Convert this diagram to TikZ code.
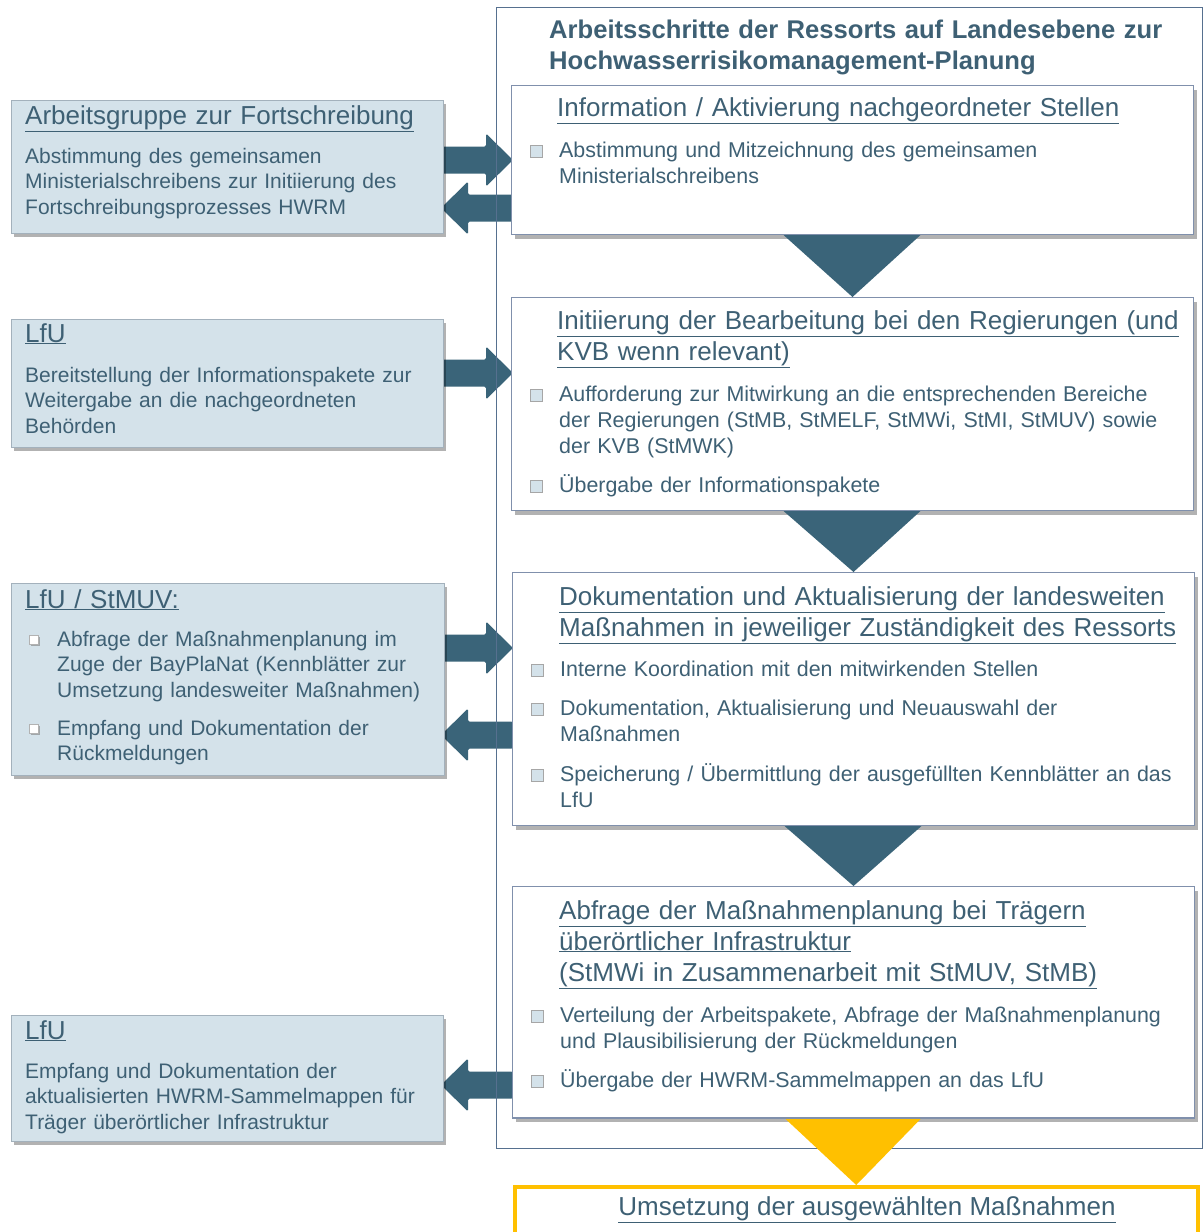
\documentclass[tikz,border=0pt]{standalone}
\usepackage{fontspec}
\setmainfont{Liberation Sans}
\usetikzlibrary{shadows,calc}
\newcommand\ul[1]{\underline{#1}}
\definecolor{dark}{HTML}{3A6479}
\definecolor{tcol}{HTML}{3E6074}
\definecolor{lfill}{HTML}{D4E2EA}
\definecolor{lborder}{HTML}{A3B1BC}
\definecolor{rborder}{HTML}{8090AC}
\definecolor{framec}{HTML}{56708F}
\definecolor{yel}{HTML}{FFC000}
\newcommand\RArrow[1]{\begin{scope}[shift={(0,#1)}]
  \fill[dark,rounded corners=1.5pt] (441,-13.5) -- (486,-13.5) -- (486,-26.5) -- (513,0) -- (486,26.5) -- (486,13.5) -- (441,13.5) -- cycle;
\end{scope}}
\newcommand\LArrow[1]{\begin{scope}[shift={(0,#1)}]
  \fill[dark,rounded corners=1.5pt] (513,-13.5) -- (468,-13.5) -- (468,-26.5) -- (441,0) -- (468,26.5) -- (468,13.5) -- (513,13.5) -- cycle;
\end{scope}}
\tikzset{
  lbox/.style={draw=lborder, line width=0.8pt, fill=lfill, inner sep=0pt, anchor=north west,
    drop shadow={shadow xshift=3pt, shadow yshift=-4pt, opacity=0.3, fill=black}},
  rbox/.style={draw=rborder, line width=1pt, fill=white, inner sep=0pt, anchor=north west,
    drop shadow={shadow xshift=3pt, shadow yshift=-4pt, opacity=0.3, fill=black}},
  head/.style={anchor=base west, inner sep=0pt, text=tcol, align=left, text width=680pt,
    font=\fontsize{26}{31}\selectfont},
  body/.style={anchor=base west, inner sep=0pt, text=tcol, align=left, text width=660pt,
    font=\fontsize{21.4}{26}\selectfont},
  lbody/.style={anchor=base west, inner sep=0pt, text=tcol, align=left, text width=660pt,
    font=\fontsize{21}{25.6}\selectfont},
  chk/.style={draw=gray!70, fill=lfill, line width=0.8pt, minimum size=12pt, inner sep=0pt},
  chkl/.style={draw=gray!60, fill=white, line width=0.6pt, minimum size=9pt, inner sep=0pt,
    drop shadow={shadow xshift=1.2pt, shadow yshift=-1.2pt, opacity=0.6, fill=gray}}
}
\begin{document}
\begin{tikzpicture}[x=1pt,y=-1pt]
\useasboundingbox[fill=white] (0,0) rectangle (1203,1232);

% block arrows
\RArrow{160}
\LArrow{208}
\RArrow{373}
\RArrow{648}
\LArrow{735}
\LArrow{1085}

% outer frame
\draw[framec, line width=0.9pt] (496,7) rectangle (1202,1148);

% title
\node[anchor=base west, inner sep=0pt, text=tcol, align=left, text width=680pt,
  font=\fontsize{25.6}{31}\selectfont\bfseries] (title) at (549,38)
  {Arbeitsschritte der Ressorts auf Landesebene zur\\Hochwasserrisikomanagement-Planung};

% right boxes
\node[rbox, minimum width=682pt, minimum height=149pt] (r1) at (511,85) {};
\node[rbox, minimum width=682pt, minimum height=213pt] (r2) at (511,297) {};
\node[rbox, minimum width=682pt, minimum height=253pt] (r3) at (512,572) {};
\node[rbox, minimum width=682pt, minimum height=231pt] (r4) at (512,886) {};

% triangles
\fill[dark] ([xshift=-69pt]r1.south) -- ([xshift=68pt]r1.south) -- (r2.north) -- cycle;
\fill[dark] ([xshift=-69pt]r2.south) -- ([xshift=68pt]r2.south) -- (r3.north) -- cycle;
\fill[dark] ([xshift=-69pt]r3.south) -- ([xshift=68pt]r3.south) -- (r4.north) -- cycle;

% yellow final box and triangle
\node[draw=yel, line width=3.5pt, fill=white, inner sep=0pt, anchor=north west,
  minimum width=683pt, minimum height=80pt] (fin) at (513,1185) {};
\fill[yel] ([xshift=-69pt]r4.south) -- ([xshift=68pt]r4.south) -- (fin.north) -- cycle;
\draw[rborder, line width=1pt] (r4.south west) -- (r4.south east);

% left boxes
\node[lbox, minimum width=432pt, minimum height=133pt] (l1) at (11,100) {};
\node[lbox, minimum width=432pt, minimum height=128pt] (l2) at (11,319) {};
\node[lbox, minimum width=433pt, minimum height=192pt] (l3) at (11,583) {};
\node[lbox, minimum width=432pt, minimum height=126pt] (l4) at (11,1015) {};

% ---- right box texts
\node[head] (h1) at (557,116) {\ul{Information / Aktivierung nachgeordneter Stellen}};
\node[chk] (c11) at (536,151) {};
\node[body] (t11) at (559,157) {Abstimmung und Mitzeichnung des gemeinsamen\\Ministerialschreibens};

\node[head] (h2) at (557,329) {\ul{Initiierung der Bearbeitung bei den Regierungen (und}\\\ul{KVB wenn relevant)}};
\node[chk] (c21) at (536,395) {};
\node[body] (t21) at (559,401) {Aufforderung zur Mitwirkung an die entsprechenden Bereiche\\der Regierungen (StMB, StMELF, StMWi, StMI, StMUV) sowie\\der KVB (StMWK)};
\node[chk] (c22) at (536,486) {};
\node[body] (t22) at (559,492) {Übergabe der Informationspakete};

\node[head] (h3) at (559,605) {\ul{Dokumentation und Aktualisierung der landesweiten}\\\ul{Maßnahmen in jeweiliger Zuständigkeit des Ressorts}};
\node[chk] (c31) at (537,670) {};
\node[body] (t31) at (560,676) {Interne Koordination mit den mitwirkenden Stellen};
\node[chk] (c32) at (537,709) {};
\node[body] (t32) at (560,715) {Dokumentation, Aktualisierung und Neuauswahl der\\Maßnahmen};
\node[chk] (c33) at (537,775) {};
\node[body] (t33) at (560,781) {Speicherung / Übermittlung der ausgefüllten Kennblätter an das\\LfU};

\node[head] (h4) at (559,919) {\ul{Abfrage der Maßnahmenplanung bei Trägern}\\\ul{überörtlicher Infrastruktur}\\\ul{(StMWi in Zusammenarbeit mit StMUV, StMB)}};
\node[chk] (c41) at (537,1016) {};
\node[body] (t41) at (560,1022) {Verteilung der Arbeitspakete, Abfrage der Maßnahmenplanung\\und Plausibilisierung der Rückmeldungen};
\node[chk] (c42) at (537,1081) {};
\node[body] (t42) at (560,1087) {Übergabe der HWRM-Sammelmappen an das LfU};

\node[anchor=base, inner sep=0pt, text=tcol, font=\fontsize{26}{31}\selectfont] (tfin) at (867,1215)
  {\ul{Umsetzung der ausgewählten Maßnahmen}};

% ---- left box texts
\node[head] (lh1) at (25,124) {\ul{Arbeitsgruppe zur Fortschreibung}};
\node[lbody] (lt1) at (25,163) {Abstimmung des gemeinsamen\\Ministerialschreibens zur Initiierung des\\Fortschreibungsprozesses HWRM};

\node[head] (lh2) at (25,342) {\ul{LfU}};
\node[lbody] (lt2) at (25,382) {Bereitstellung der Informationspakete zur\\Weitergabe an die nachgeordneten\\Behörden};

\node[head] (lh3) at (25,608) {\ul{LfU / StMUV:}};
\node[chkl] (lc1) at (34,640) {};
\node[lbody] (lt31) at (57,646) {Abfrage der Maßnahmenplanung im\\Zuge der BayPlaNat (Kennblätter zur\\Umsetzung landesweiter Maßnahmen)};
\node[chkl] (lc2) at (34,729) {};
\node[lbody] (lt32) at (57,735) {Empfang und Dokumentation der\\Rückmeldungen};

\node[head] (lh4) at (25,1039) {\ul{LfU}};
\node[lbody] (lt4) at (25,1078) {Empfang und Dokumentation der\\aktualisierten HWRM-Sammelmappen für\\Träger überörtlicher Infrastruktur};
\end{tikzpicture}
\end{document}
